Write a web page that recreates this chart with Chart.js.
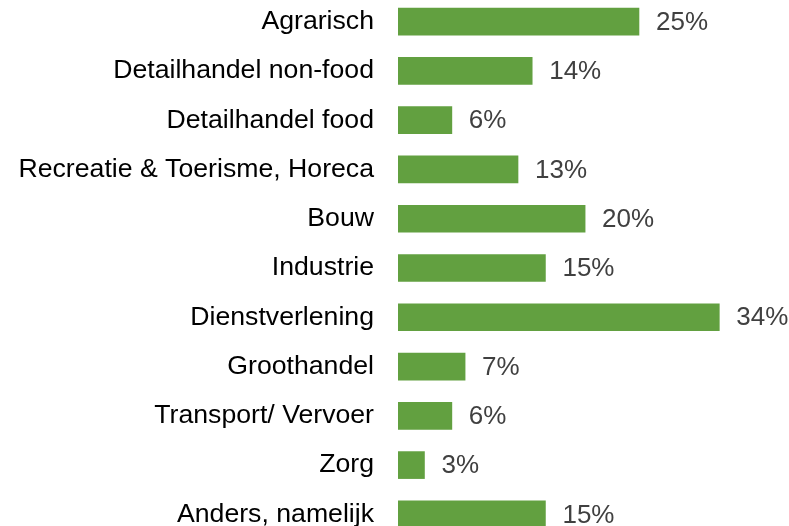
<!DOCTYPE html>
<html>
<head>
<meta charset="utf-8">
<script src="https://cdn.jsdelivr.net/npm/chart.js@4/dist/chart.umd.min.js"></script>
<style>
  html, body { margin: 0; padding: 0; background: #fff; overflow: hidden; width: 789px; height: 526px; }
  #wrap { position: absolute; left: 0; top: -3px; width: 789px; height: 542px; }
</style>
</head>
<body>
<div id="wrap"><canvas id="c"></canvas></div>
<script>
const categories = [
  'Agrarisch',
  'Detailhandel non-food',
  'Detailhandel food',
  'Recreatie & Toerisme, Horeca',
  'Bouw',
  'Industrie',
  'Dienstverlening',
  'Groothandel',
  'Transport/ Vervoer',
  'Zorg',
  'Anders, namelijk'
];
const values = [25.5, 14.2, 5.7, 12.7, 19.8, 15.6, 34.0, 7.1, 5.7, 2.8, 15.6];
const valueLabels = ['25%', '14%', '6%', '13%', '20%', '15%', '34%', '7%', '6%', '3%', '15%'];

const FONT = "'Liberation Sans', Arial, sans-serif";
const FONT_SIZE = 26.67;
const VALUE_FONT_SIZE = 26;

const valueLabelPlugin = {
  id: 'valueLabels',
  afterDatasetsDraw(chart) {
    const ctx = chart.ctx;
    const meta = chart.getDatasetMeta(0);
    ctx.save();
    ctx.font = VALUE_FONT_SIZE + 'px ' + FONT;
    ctx.fillStyle = '#404040';
    ctx.textAlign = 'left';
    ctx.textBaseline = 'middle';
    meta.data.forEach((el, i) => {
      ctx.fillText(valueLabels[i], el.x + 17, el.y + 1);
    });
    ctx.restore();
  }
};

new Chart(document.getElementById('c'), {
  type: 'bar',
  data: {
    labels: categories,
    datasets: [{
      data: values,
      backgroundColor: '#62a040',
      borderWidth: 0,
      barThickness: 27
    }]
  },
  options: {
    indexAxis: 'y',
    responsive: true,
    maintainAspectRatio: false,
    animation: false,
    layout: { padding: { top: 0, bottom: 0, left: 0, right: 13 } },
    plugins: { legend: { display: false }, tooltip: { enabled: false } },
    scales: {
      x: { display: false, min: 0, max: 40 },
      y: {
        grid: { display: false, drawTicks: false },
        border: { display: false },
        ticks: {
          autoSkip: false,
          padding: 24,
          color: '#000',
          font: { family: FONT, size: FONT_SIZE }
        },
        afterFit(scale) {
          scale.width = 398;
          scale.paddingTop = 0;
          scale.paddingBottom = 0;
        }
      }
    }
  },
  plugins: [valueLabelPlugin]
});
</script>
</body>
</html>
